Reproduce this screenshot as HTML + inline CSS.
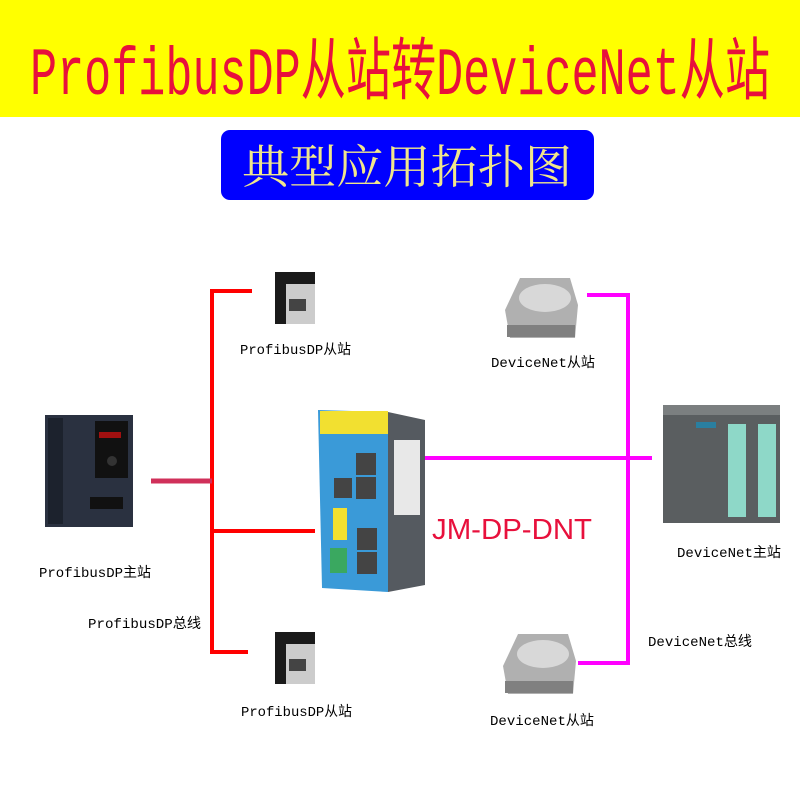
<!DOCTYPE html>
<html><head><meta charset="utf-8"><style>
body{margin:0;width:800px;height:800px;overflow:hidden;background:#fff}
svg text{font-family:"Liberation Mono","Noto Sans CJK SC",monospace}
</style></head><body>
<svg width="800" height="800" viewBox="0 0 800 800" xmlns="http://www.w3.org/2000/svg">
<rect x="0" y="0" width="800" height="117" fill="#ffff00"/>
<text x="400" y="94" text-anchor="middle" font-size="68" fill="#e8103c" textLength="740" lengthAdjust="spacingAndGlyphs" style="font-family:'Liberation Sans Narrow','Liberation Mono','Noto Sans CJK SC',sans-serif">ProfibusDP从站转DeviceNet从站</text>
<rect x="221" y="130" width="373" height="70" rx="9" fill="#0000ff"/>
<text x="407" y="183" text-anchor="middle" font-size="46" fill="#f0e68c" style="font-family:'Noto Serif CJK SC',serif" textLength="330" lengthAdjust="spacingAndGlyphs">典型应用拓扑图</text>

<g stroke="#ff0000" stroke-width="4" fill="none">
<path d="M252 291 H212 V652 H248"/>
<path d="M212 531 H315"/>
</g>
<path d="M151 481 H212" stroke="#d0305a" stroke-width="5"/>
<g stroke="#ff00ff" stroke-width="4" fill="none">
<path d="M587 295 H628 V663 H578"/>
<path d="M425 458 H652"/>
</g>

<rect x="45" y="415" width="88" height="112" fill="#2a3140"/>
<rect x="48" y="418" width="15" height="106" fill="#1c222d"/>
<rect x="95" y="421" width="33" height="57" fill="#111"/>
<rect x="99" y="432" width="22" height="6" fill="#a01010"/>
<circle cx="112" cy="461" r="5" fill="#333"/>
<rect x="90" y="497" width="33" height="12" fill="#111"/>

<g>
<rect x="275" y="272" width="40" height="52" fill="#1a1a1a"/>
<rect x="286" y="284" width="29" height="40" fill="#ccc"/>
<rect x="289" y="299" width="17" height="12" fill="#444"/>
</g>
<g transform="translate(0,360)">
<rect x="275" y="272" width="40" height="52" fill="#1a1a1a"/>
<rect x="286" y="284" width="29" height="40" fill="#ccc"/>
<rect x="289" y="299" width="17" height="12" fill="#444"/>
</g>

<g>
<path d="M520 278 L570 278 L578 305 L575 338 L510 338 L505 310 Z" fill="#b0b0b0"/>
<ellipse cx="545" cy="298" rx="26" ry="14" fill="#d8d8d8"/>
<rect x="507" y="325" width="68" height="12" fill="#808080"/>
</g>
<g transform="translate(-2,356)">
<path d="M520 278 L570 278 L578 305 L575 338 L510 338 L505 310 Z" fill="#b0b0b0"/>
<ellipse cx="545" cy="298" rx="26" ry="14" fill="#d8d8d8"/>
<rect x="507" y="325" width="68" height="12" fill="#808080"/>
</g>

<rect x="663" y="405" width="117" height="118" fill="#5a5e60"/>
<rect x="663" y="405" width="117" height="10" fill="#7b7f80"/>
<rect x="728" y="424" width="18" height="93" fill="#8ed8c8"/>
<rect x="758" y="424" width="18" height="93" fill="#8ed8c8"/>
<rect x="696" y="422" width="20" height="6" fill="#2a7fa0"/>

<path d="M388 412 L425 420 L425 585 L388 592 Z" fill="#555a60"/>
<rect x="394" y="440" width="26" height="75" fill="#e8e8e8"/>
<path d="M318 410 L388 412 L388 592 L322 588 Z" fill="#3a9ad8"/>
<rect x="320" y="411" width="68" height="23" fill="#f2e030"/>
<rect x="356" y="453" width="20" height="22" fill="#444"/>
<rect x="356" y="477" width="20" height="22" fill="#444"/>
<rect x="334" y="478" width="18" height="20" fill="#444"/>
<rect x="333" y="508" width="14" height="32" fill="#f2e030"/>
<rect x="357" y="528" width="20" height="22" fill="#444"/>
<rect x="357" y="552" width="20" height="22" fill="#444"/>
<rect x="330" y="548" width="17" height="25" fill="#3aa860"/>

<text x="512" y="539" text-anchor="middle" font-size="29" fill="#e8103c" style="font-family:'Liberation Sans Narrow','Liberation Sans',sans-serif" textLength="160" lengthAdjust="spacingAndGlyphs">JM-DP-DNT</text>

<g font-size="14" fill="#000">
<text x="240" y="354" textLength="111" lengthAdjust="spacingAndGlyphs">ProfibusDP从站</text>
<text x="491" y="367" textLength="104" lengthAdjust="spacingAndGlyphs">DeviceNet从站</text>
<text x="39" y="577" textLength="112" lengthAdjust="spacingAndGlyphs">ProfibusDP主站</text>
<text x="677" y="557" textLength="104" lengthAdjust="spacingAndGlyphs">DeviceNet主站</text>
<text x="88" y="628" textLength="113" lengthAdjust="spacingAndGlyphs">ProfibusDP总线</text>
<text x="648" y="646" textLength="104" lengthAdjust="spacingAndGlyphs">DeviceNet总线</text>
<text x="241" y="716" textLength="111" lengthAdjust="spacingAndGlyphs">ProfibusDP从站</text>
<text x="490" y="725" textLength="104" lengthAdjust="spacingAndGlyphs">DeviceNet从站</text>
</g>
</svg>
</body></html>
